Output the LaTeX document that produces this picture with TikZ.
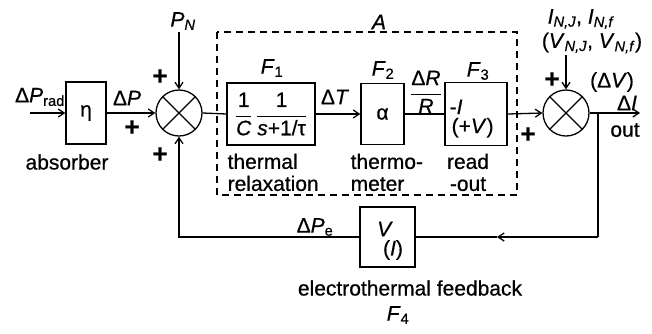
\documentclass[tikz,border=0pt]{standalone}
\usepackage{fontspec}
\setmainfont{Liberation Sans}[FakeBold=0.6]
\usetikzlibrary{arrows.meta}
\newcommand\vi[1]{\textit{#1}}
\newcommand\fr[2]{$\displaystyle\frac{\mbox{#1}}{\mbox{#2}}$}
\begin{document}
\begin{tikzpicture}[x=1pt,y=-1pt,
  font=\fontsize{21}{22}\selectfont,
  line width=1.3pt,
  >={Straight Barb[length=6pt,width=8pt]},
  blk/.style={draw, rectangle, inner sep=0pt},
  sumnode/.style={draw, circle, minimum size=46pt, inner sep=0pt},
  lbl/.style={inner sep=0pt},
  plus/.style={inner sep=0pt, font=\fontsize{26}{26}\selectfont\bfseries},
  dashbox/.style={draw, dashed, dash pattern=on 7pt off 5pt}]
\useasboundingbox (0,0) rectangle (652,333);

% absorber
\coordinate (in) at (30,113);
\node[blk, minimum width=40pt, minimum height=62pt] (eta) at (86,113) {η};
\node[lbl] (lrad) at (40,97) {Δ\vi{P}\textsubscript{rad}};
\node[lbl] (labs) at (67,162) {absorber};

% sum 1
\node[sumnode] (s1) at (179,113) {};
\draw (s1.north west) -- (s1.south east) (s1.north east) -- (s1.south west);
\node[lbl] (lPN) at (183,21) {\vi{P}\textsubscript{\vi{N}}};
\coordinate (pn) at (179,32);
\node[lbl] (lDP) at (127,98) {Δ\vi{P}};
\node[plus] (p1) at (132,128) {+};
\node[plus] (p2) at (160,77) {+};
\node[plus] (p3) at (160,155) {+};

% dashed block A
\draw[dashbox] (217,32) rectangle (517,195);
\node[lbl] (lA) at (379,22) {\vi{A}};

% F1
\node[blk, minimum width=88pt, minimum height=62pt] (f1) at (271,114)
  {\fr{1}{\vi{C}}\,\fr{1}{\vi{s}+1/τ}};
\node[lbl] (lf1) at (272,68) {\vi{F}\textsubscript{1}};
\node[lbl, align=left, anchor=north west] (lth) at (227,153) {thermal\\relaxation};

% F2
\node[blk, minimum width=43pt, minimum height=61pt] (f2) at (382.5,114) {α};
\node[lbl] (lf2) at (383,70) {\vi{F}\textsubscript{2}};
\node[lbl, align=left, anchor=north west] (lthm) at (350,153) {thermo-\\meter};
\node[lbl] (lDT) at (335,97) {Δ\vi{T}};
\node[lbl] (lDR) at (426,92) {\fr{Δ\vi{R}}{\vi{R}}};

% F3
\node[blk, minimum width=62pt, minimum height=63pt] (f3) at (476,114) {};
\node[lbl, align=left, anchor=north west, font=\fontsize{21}{19}\selectfont] (tIV) at (451,99) {\hspace*{-2pt}-\vi{I}\\(+\vi{V})};
\node[lbl] (lf3) at (478,71) {\vi{F}\textsubscript{3}};
\node[lbl, align=center, anchor=north] (lro) at (468,153) {read\\-out};

% sum 2
\node[sumnode] (s2) at (566,113) {};
\draw (s2.north west) -- (s2.south east) (s2.north east) -- (s2.south west);
\node[lbl] (ln1) at (581,19) {\vi{I}\textsubscript{\vi{N,J}}, \vi{I}\textsubscript{\vi{N,f}}};
\node[lbl] (ln2) at (592,43) {(\vi{V}\textsubscript{\vi{N,J}}, \vi{V}\textsubscript{\vi{N,f}})};
\coordinate (nt) at (566,55);
\node[plus] (p4) at (552,80) {+};
\node[plus] (p5) at (528,135) {+};
\coordinate (out) at (640,113);
\node[lbl] (lDV) at (612,82) {(Δ\vi{V})};
\node[lbl] (lDI) at (627,103) {Δ\vi{I}};
\node[lbl] (lout) at (625,130) {out};

% feedback
\coordinate (br) at (598,113);
\coordinate (br2) at (598,237);
\coordinate (mid) at (497,237);
\node[blk, minimum width=55pt, minimum height=60pt] (f4) at (387.5,237) {};
\node[lbl] (tV4) at (385,229) {\vi{V}};
\node[lbl] (tI4) at (393,250) {(\vi{I})};
\coordinate (fl) at (179,237);
\node[lbl] (lPe) at (315,227) {Δ\vi{P}\textsubscript{e}};
\node[lbl] (let) at (410,288) {electrothermal feedback};
\node[lbl] (lf4) at (398,315) {\vi{F}\textsubscript{4}};

% connectors
\draw[->] (in) -- (eta.west);
\draw[->] (eta.east) -- (s1.west);
\draw[->] (pn) -- (s1.north);
\draw (s1.east) -- (f1.west);
\draw[->] (f1.east) -- (f2.west);
\draw (f2.east) -- (f3.west);
\draw[->] (f3.east) -- (s2.west);
\draw[->] (nt) -- (s2.north);
\draw[->] (s2.east) -- (out);
\draw (br) -- (br2);
\draw[->] (br2) -- (mid);
\draw (mid) -- (f4.east);
\draw[->] (f4.west) -- (fl) -- (s1.south);
\end{tikzpicture}
\end{document}
